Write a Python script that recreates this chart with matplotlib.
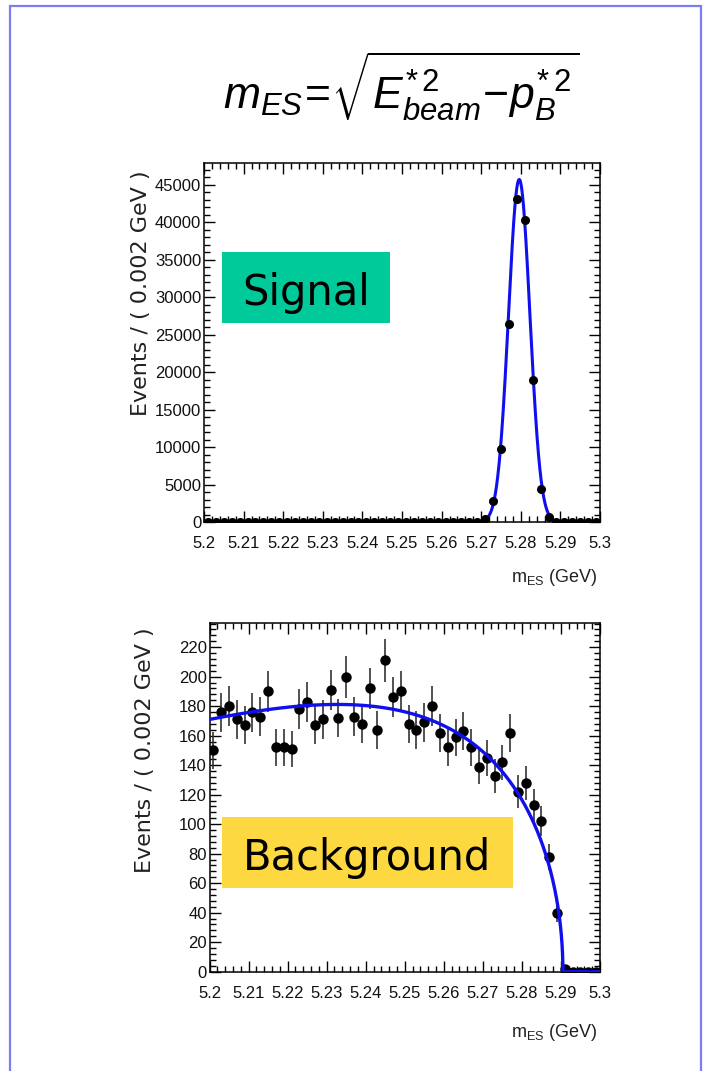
import numpy as np
import matplotlib
matplotlib.use("Agg")
import matplotlib.pyplot as plt
from matplotlib.patches import Rectangle
from matplotlib.ticker import MultipleLocator, FixedLocator, FuncFormatter

# ---------------- data ----------------
mes_min, mes_max, n_bins = 5.2, 5.3, 50

signal_counts = [0, 0, 0, 0, 0, 0, 0, 0, 0, 0,
                 0, 0, 0, 0, 0, 0, 0, 0, 0, 0,
                 0, 0, 0, 0, 0, 0, 0, 0, 0, 0,
                 0, 0, 0, 0, 0, 400, 2800, 9800, 26400, 43100,
                 40300, 18900, 4400, 700, 50, 0, 0, 0, 0, 0]

background_counts = [150, 176, 180, 171, 167, 176, 173, 190, 152, 152,
                     151, 178, 183, 167, 171, 191, 172, 200, 173, 168,
                     192, 164, 211, 186, 190, 168, 164, 169, 180, 162,
                     152, 159, 163, 152, 139, 145, 133, 142, 162, 122,
                     128, 113, 102, 78, 40, 2, 0, 0, 0, 0]

# fitted model parameters
sig_mean, sig_sigma, sig_peak = 5.2796, 0.0027, 45700
argus_m0, argus_c, argus_at_low = 5.2905, -22.5, 171

x_ticks = [5.2, 5.21, 5.22, 5.23, 5.24, 5.25, 5.26, 5.27, 5.28, 5.29, 5.3]
sig_yticks = [0, 5000, 10000, 15000, 20000, 25000, 30000, 35000, 40000, 45000]
bkg_yticks = [0, 20, 40, 60, 80, 100, 120, 140, 160, 180, 200, 220]

# ---------------- helpers ----------------
W, H = 703, 1071
fig = plt.figure(figsize=(W / 100, H / 100), dpi=100)
fig.patch.set_facecolor("white")

def ax_rect(left, top, right, bottom):
    return [left / W, 1 - bottom / H, (right - left) / W, (bottom - top) / H]

edges = np.linspace(mes_min, mes_max, n_bins + 1)
centers = 0.5 * (edges[:-1] + edges[1:])
mgrid = np.linspace(mes_min, mes_max, 4001)

def gauss(m):
    return sig_peak * np.exp(-0.5 * ((m - sig_mean) / sig_sigma) ** 2)

def argus(m):
    t = np.clip(1 - (m / argus_m0) ** 2, 0, None)
    t0 = 1 - (mes_min / argus_m0) ** 2
    g = m * np.sqrt(t) * np.exp(argus_c * t)
    g0 = mes_min * np.sqrt(t0) * np.exp(argus_c * t0)
    return argus_at_low * g / g0

def style_axes(ax, ymax, yminor, yticks, label_x, label_y, xlab_y):
    ax.set_xlim(mes_min, mes_max)
    ax.set_ylim(0, ymax)
    ax.xaxis.set_major_locator(FixedLocator(x_ticks))
    ax.xaxis.set_minor_locator(MultipleLocator(0.002))
    ax.yaxis.set_major_locator(FixedLocator(yticks))
    ax.yaxis.set_minor_locator(MultipleLocator(yminor))
    ax.xaxis.set_major_formatter(FuncFormatter(lambda v, p: "%g" % round(v, 3)))
    ax.yaxis.set_major_formatter(FuncFormatter(lambda v, p: "%d" % v))
    ax.tick_params(which="both", direction="in", top=True, right=True, width=1.0)
    ax.tick_params(which="major", length=8)
    ax.tick_params(which="minor", length=4)
    ax.tick_params(axis="x", which="major", pad=10)
    ax.tick_params(axis="y", which="major", pad=2)
    for lab in ax.get_xticklabels() + ax.get_yticklabels():
        lab.set_fontfamily("Liberation Sans")
        lab.set_fontsize(12)
        lab.set_color("#111111")
    for s in ax.spines.values():
        s.set_linewidth(1.1)
        s.set_color("black")
    ax.set_ylabel("Events / ( 0.002 GeV )", loc="top", fontsize=16,
                  family="DejaVu Sans", color="#222222")
    ax.yaxis.set_label_coords(label_x, label_y)
    ax.set_xlabel(r"$\mathregular{m_{ES}}$ (GeV)", loc="right", fontsize=13,
                  family="Liberation Sans", color="#222222")
    ax.xaxis.set_label_coords(0.993, xlab_y)

# ---------------- signal ----------------
ax1 = fig.add_axes(ax_rect(204, 163, 600, 522))
ax1.plot(mgrid, gauss(mgrid), color="#1010ee", lw=2.2, zorder=2)
ax1.errorbar(centers, signal_counts, yerr=np.sqrt(signal_counts), fmt="o",
             color="black", ms=5.5, elinewidth=1.0, capsize=0, zorder=3)
style_axes(ax1, 47900, 1000, sig_yticks, -0.135, 0.98, -0.125)

# ---------------- background ----------------
ax2 = fig.add_axes(ax_rect(209.5, 622.7, 600, 971.7))
ax2.errorbar(centers, background_counts, yerr=np.sqrt(background_counts), fmt="o",
             color="black", ecolor="#333333", ms=6.5, elinewidth=1.2, capsize=0, zorder=3)
ax2.plot(mgrid, argus(mgrid), color="#1010ee", lw=2.4, zorder=4)
style_axes(ax2, 236.6, 4, bkg_yticks, -0.14, 0.986, -0.145)

# ---------------- label boxes ----------------
def label_box(left, top, right, bottom, color, text, baseline):
    fig.add_artist(Rectangle((left / W, 1 - bottom / H), (right - left) / W,
                             (bottom - top) / H, transform=fig.transFigure,
                             facecolor=color, edgecolor="none", zorder=10))
    fig.text((left + right) / 2 / W, 1 - baseline / H, text, ha="center",
             va="baseline", fontsize=30, family="DejaVu Sans", color="black",
             zorder=11)

label_box(221.7, 251.7, 390, 322.7, "#00C99A", "Signal", 305)
label_box(221.7, 817.3, 512.7, 887.7, "#FDD841", "Background", 870)

# ---------------- formula ----------------
plt.rcParams["mathtext.fontset"] = "custom"
plt.rcParams["mathtext.it"] = "Liberation Sans:italic"
plt.rcParams["mathtext.rm"] = "Liberation Sans"
fig.text(401 / W, 1 - 86 / H,
         r"$m_{ES}\!=\!\sqrt{E_{beam}^{*\,2}\!-\!p_{B}^{*\,2}}$",
         ha="center", va="center", fontsize=32, color="black")

# ---------------- page border ----------------
fig.add_artist(Rectangle((9.5 / W, -0.05), (700.5 - 9.5) / W, 1.05 - 6 / H,
                         transform=fig.transFigure, facecolor="none",
                         edgecolor="#7c7cf5", lw=1.6, zorder=20))

fig.savefig("out.png", dpi=100)
